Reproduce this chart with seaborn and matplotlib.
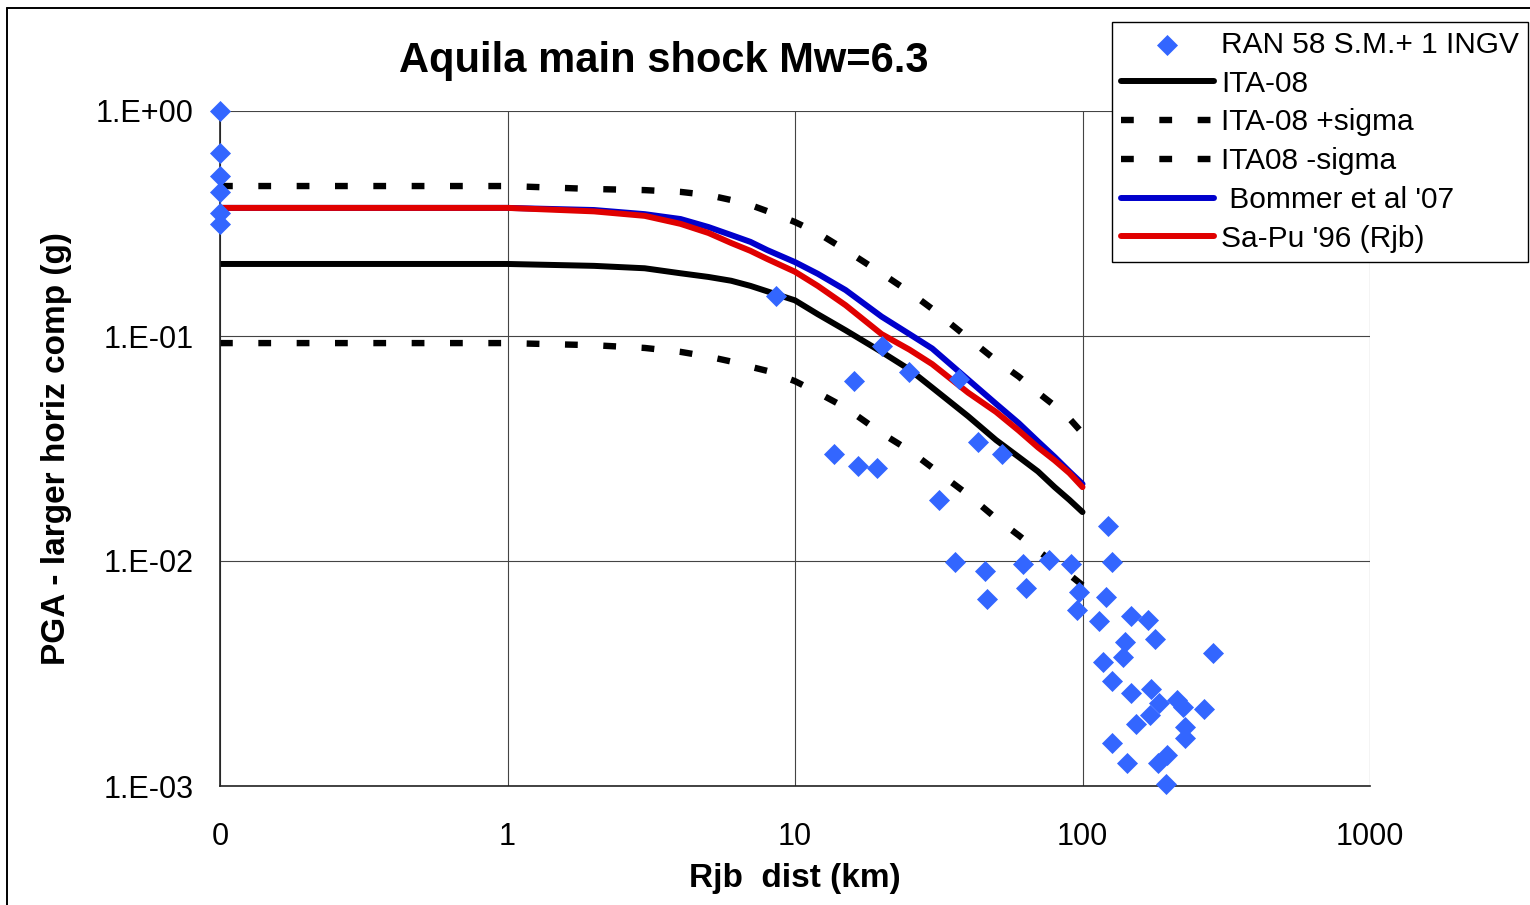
import matplotlib
matplotlib.use("Agg")
import matplotlib.pyplot as plt
import seaborn as sns
from matplotlib.lines import Line2D
from matplotlib.ticker import LogLocator, NullFormatter

# model curves, Rjb distance (km) vs PGA (g)
dist = [0.1, 1, 2, 3, 4, 5, 6, 7, 8, 10, 12, 15, 20, 25, 30, 40, 50, 60, 70, 80, 90, 100]
ita = [0.209, 0.209, 0.205, 0.200, 0.190, 0.183, 0.176, 0.167, 0.158, 0.144, 0.125, 0.106,
       0.085, 0.071, 0.059, 0.044, 0.0345, 0.029, 0.025, 0.0213, 0.0187, 0.0165]
ita_plus = [0.464, 0.464, 0.450, 0.445, 0.437, 0.423, 0.402, 0.382, 0.359, 0.321, 0.287, 0.241,
            0.190, 0.157, 0.132, 0.098, 0.078, 0.066, 0.056, 0.049, 0.043, 0.037]
ita_minus = [0.093, 0.093, 0.091, 0.0885, 0.085, 0.081, 0.077, 0.073, 0.070, 0.063, 0.056, 0.048,
             0.037, 0.031, 0.026, 0.0197, 0.0155, 0.013, 0.0111, 0.0098, 0.0087, 0.0078]
bommer = [0.371, 0.371, 0.363, 0.348, 0.331, 0.305, 0.281, 0.262, 0.241, 0.213, 0.189, 0.160,
          0.122, 0.102, 0.088, 0.064, 0.050, 0.041, 0.034, 0.029, 0.025, 0.022]
sapu = [0.371, 0.371, 0.358, 0.342, 0.315, 0.287, 0.259, 0.239, 0.220, 0.193, 0.167, 0.137,
        0.102, 0.087, 0.075, 0.056, 0.046, 0.038, 0.032, 0.028, 0.0246, 0.0213]

# recorded PGA (RAN + INGV stations)
obs_dist = [0.1, 0.1, 0.1, 0.1, 0.1, 0.1,
            8.6, 20.0, 16.0, 25.0, 37.2, 13.7, 16.5, 19.3, 43.4, 52.6, 31.8,
            122.4, 36.0, 45.8, 46.4, 62.2, 63.6, 76.7, 91.2, 126.3, 97.5, 95.9, 120.4, 114.1,
            147.5, 140.5, 169.4, 179.2, 137.9, 118.1, 285, 126.9, 147.1, 172.7, 185, 171.7,
            212.6, 224.2, 265.3, 153.1, 227.2, 227, 126.3, 142.4, 183, 196.8, 195.2]
obs_pga = [1.0, 0.65, 0.514, 0.437, 0.352, 0.315,
           0.150, 0.090, 0.063, 0.069, 0.0644, 0.0298, 0.0265, 0.026, 0.0339, 0.0298, 0.0187,
           0.01435, 0.00987, 0.00905, 0.00678, 0.00966, 0.00756, 0.0101, 0.00966, 0.00987,
           0.00726, 0.00606, 0.00694, 0.00543, 0.0057, 0.00438, 0.00547, 0.00449, 0.00373,
           0.00357, 0.00391, 0.00293, 0.0026, 0.00269, 0.00233, 0.00207, 0.00241, 0.00225,
           0.0022, 0.00189, 0.00182, 0.00163, 0.00155, 0.00127, 0.00127, 0.00137, 0.00102]

x_ticks = [0.1, 1, 10, 100, 1000]
x_labels = ["0", "1", "10", "100", "1000"]
y_ticks = [0.001, 0.01, 0.1, 1]
y_labels = ["1.E-03", "1.E-02", "1.E-01", "1.E+00"]

sns.set_style("white")
plt.rcParams['font.family'] = ['Liberation Sans', 'DejaVu Sans']
plt.rcParams['text.color'] = 'black'
plt.rcParams['axes.labelcolor'] = 'black'
plt.rcParams['xtick.color'] = 'black'
plt.rcParams['ytick.color'] = 'black'

W, H = 1530, 905
fig = plt.figure(figsize=(W / 100, H / 100), dpi=100)
ax = fig.add_axes([220 / W, 1 - 786 / H, 1150 / W, 675 / H])

lw = 4.3
dash = (0, (2, 4))
sns.lineplot(x=dist, y=ita, ax=ax, color="black", lw=lw, label="ITA-08", solid_capstyle="round")
sns.lineplot(x=dist, y=ita_plus, ax=ax, color="black", lw=4.6, linestyle=dash,
             dash_capstyle="butt", label="ITA-08 +sigma")
sns.lineplot(x=dist, y=ita_minus, ax=ax, color="black", lw=4.6, linestyle=dash,
             dash_capstyle="butt", label="ITA08 -sigma")
sns.lineplot(x=dist, y=bommer, ax=ax, color="#0000CC", lw=lw, label=" Bommer et al '07",
             solid_capstyle="round")
sns.lineplot(x=dist, y=sapu, ax=ax, color="#E00000", lw=lw, label="Sa-Pu '96 (Rjb)",
             solid_capstyle="round")
sns.scatterplot(x=obs_dist, y=obs_pga, ax=ax, marker="D", s=115, color="#3366FF",
                linewidth=0, label="RAN 58 S.M.+ 1 INGV", clip_on=False, zorder=5)

ax.set_xscale("log")
ax.set_yscale("log")
ax.set_xlim(0.1, 1000)
ax.set_ylim(0.001, 1)
ax.set_xticks(x_ticks)
ax.set_xticklabels(x_labels)
ax.set_yticks(y_ticks)
ax.set_yticklabels(y_labels)
ax.xaxis.set_minor_locator(LogLocator(base=10, subs=range(2, 10), numticks=20))
ax.yaxis.set_minor_locator(LogLocator(base=10, subs=range(2, 10), numticks=20))
ax.xaxis.set_minor_formatter(NullFormatter())
ax.yaxis.set_minor_formatter(NullFormatter())
ax.tick_params(axis="x", which="major", direction="out", length=7, width=1, pad=19,
               labelsize=22, color="#333333")
ax.tick_params(axis="y", which="major", direction="in", length=7, width=1, pad=19,
               labelsize=22, color="#333333")
ax.tick_params(which="minor", direction="in", length=4.3, width=0.9, color="#333333")

ax.grid(True, which="major", color="#444444", lw=0.8)
ax.set_axisbelow(True)
for side in ["top", "right"]:
    ax.spines[side].set_visible(False)
for side in ["left", "bottom"]:
    ax.spines[side].set_color("#222222")
    ax.spines[side].set_linewidth(1.2)

ax.set_xlabel("Rjb  dist (km)", fontsize=24, fontweight="bold")
ax.set_ylabel("PGA - larger horiz comp (g)", fontsize=24, fontweight="bold")
ax.xaxis.set_label_coords(0.5, (27 - 119) / 675)
ax.xaxis.label.set_va("center")
ax.yaxis.set_label_coords((57 - 220) / 1150, 0.5)
ax.yaxis.label.set_va("center")

fig.text(664 / W, 1 - 61 / H, "Aquila main shock Mw=6.3", ha="center", va="center",
         fontsize=30, fontweight="bold")

handles, labels = ax.get_legend_handles_labels()
order = ["RAN 58 S.M.+ 1 INGV", "ITA-08", "ITA-08 +sigma", "ITA08 -sigma",
         " Bommer et al '07", "Sa-Pu '96 (Rjb)"]
lookup = dict(zip(labels, handles))
leg = ax.legend([lookup[k] for k in order], order, loc="upper left",
                bbox_to_anchor=(1112 / W, 1 - 22 / H), bbox_transform=fig.transFigure,
                frameon=True, fancybox=False, shadow=False, edgecolor="black",
                fontsize=21.5, handlelength=3.1, handletextpad=0.25, borderpad=0.3,
                labelspacing=0.36, borderaxespad=0, scatterpoints=1, framealpha=1)
leg.get_frame().set_linewidth(1.0)

# outer chart border (left and top edges visible)
fig.add_artist(Line2D([7 / W, 7 / W], [0, 1 - 8 / H], transform=fig.transFigure,
                      color="black", lw=1.4))
fig.add_artist(Line2D([7 / W, 1], [1 - 8 / H, 1 - 8 / H], transform=fig.transFigure,
                      color="black", lw=1.4))

fig.savefig("out.png", dpi=100)
